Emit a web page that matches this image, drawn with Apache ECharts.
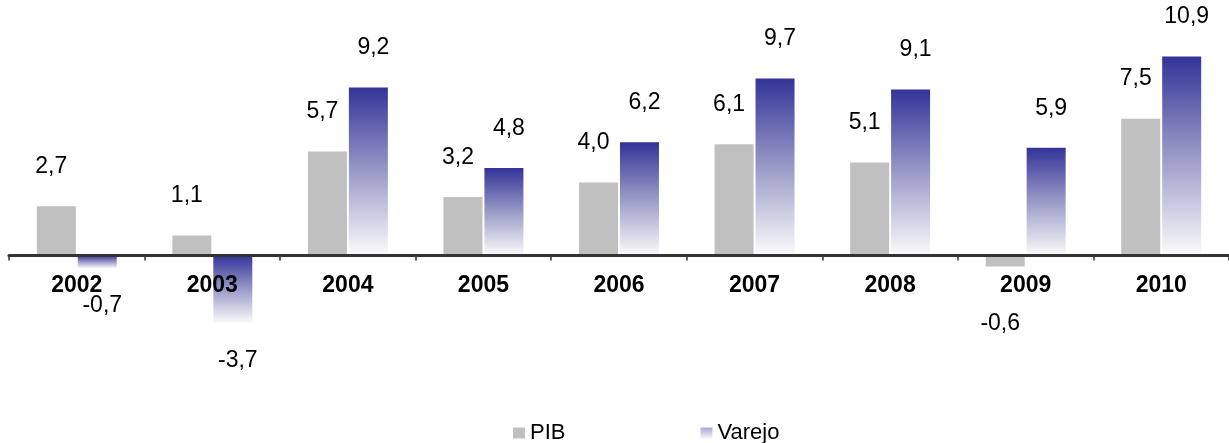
<!DOCTYPE html>
<html>
<head>
<meta charset="utf-8">
<script src="https://cdn.jsdelivr.net/npm/echarts@6/dist/echarts.min.js"></script>
<style>
  html, body { margin: 0; padding: 0; background: #ffffff; }
  #chart { width: 1229px; height: 443px; }
</style>
</head>
<body>
<div id="chart"></div>
<script>
const categories = ['2002', '2003', '2004', '2005', '2006', '2007', '2008', '2009', '2010'];
const pibValues = [2.7, 1.1, 5.7, 3.2, 4.0, 6.1, 5.1, -0.6, 7.5];
const varejoValues = [-0.7, -3.7, 9.2, 4.8, 6.2, 9.7, 9.1, 5.9, 10.9];
const seriesNames = ['PIB', 'Varejo'];

const fmt = v => v.toFixed(1).replace('.', ',');

function toData(values, dist) {
  return values.map(v => v < 0
    ? { value: v, label: { position: 'bottom', distance: dist } }
    : { value: v });
}

const varejoGradient = new echarts.graphic.LinearGradient(0, 0, 0, 1, [
  { offset: 0, color: '#333399' },
  { offset: 0.5, color: '#9a9ac8' },
  { offset: 1, color: '#fbfbfb' }
]);
const legendGradient = new echarts.graphic.LinearGradient(0, 0, 0, 1, [
  { offset: 0, color: '#a8a8d4' },
  { offset: 1, color: '#f6f6f9' }
]);

const FONT = 'Liberation Sans, Arial, sans-serif';
const labelStyle = {
  show: true,
  position: 'top',
  distance: 28,
  fontFamily: FONT,
  fontSize: 23,
  color: '#000000',
  formatter: p => fmt(p.value)
};

// y scale: min/max chosen so zero sits at the axis line
const Y_MIN = -4, Y_MAX = 12;
const GRID_TOP = 36.5, GRID_BOTTOM = 114.5;
const plotH = 443 - GRID_TOP - GRID_BOTTOM;
const zeroShift = plotH * (0 - Y_MIN) / (Y_MAX - Y_MIN);

const chart = echarts.init(document.getElementById('chart'), null, { renderer: 'canvas' });
chart.setOption({
  animation: false,
  backgroundColor: '#ffffff',
  grid: { left: 9, right: 0, top: GRID_TOP, bottom: GRID_BOTTOM, containLabel: false },
  legend: {
    data: [
      { name: seriesNames[0] },
      { name: seriesNames[1], itemStyle: { color: legendGradient } }
    ],
    left: 508,
    top: 417,
    icon: 'rect',
    itemWidth: 12,
    itemHeight: 11,
    itemGap: 135,
    textStyle: { fontFamily: FONT, fontSize: 22, color: '#000000' }
  },
  xAxis: {
    type: 'category',
    data: categories,
    z: 5,
    offset: -zeroShift,
    axisLine: { show: true, onZero: false, lineStyle: { color: '#333333', width: 3 } },
    axisTick: { show: true, alignWithLabel: false, length: 5, lineStyle: { color: '#333333', width: 1.5 } },
    axisLabel: {
      margin: 19,
      fontFamily: FONT,
      fontSize: 23,
      fontWeight: 'bold',
      color: '#000000'
    },
    splitLine: { show: false }
  },
  yAxis: {
    type: 'value',
    min: Y_MIN,
    max: Y_MAX,
    show: false,
    splitLine: { show: false }
  },
  series: [
    {
      name: seriesNames[0],
      type: 'bar',
      data: toData(pibValues, 46),
      barWidth: 39,
      barGap: '5%',
      itemStyle: { color: '#c0c0c0' },
      label: Object.assign({}, labelStyle, { offset: [-5, 0] })
    },
    {
      name: seriesNames[1],
      type: 'bar',
      data: toData(varejoValues, 26),
      barWidth: 39,
      barGap: '5%',
      itemStyle: { color: varejoGradient },
      label: Object.assign({}, labelStyle, { offset: [5, 0] })
    }
  ]
});
</script>
</body>
</html>
